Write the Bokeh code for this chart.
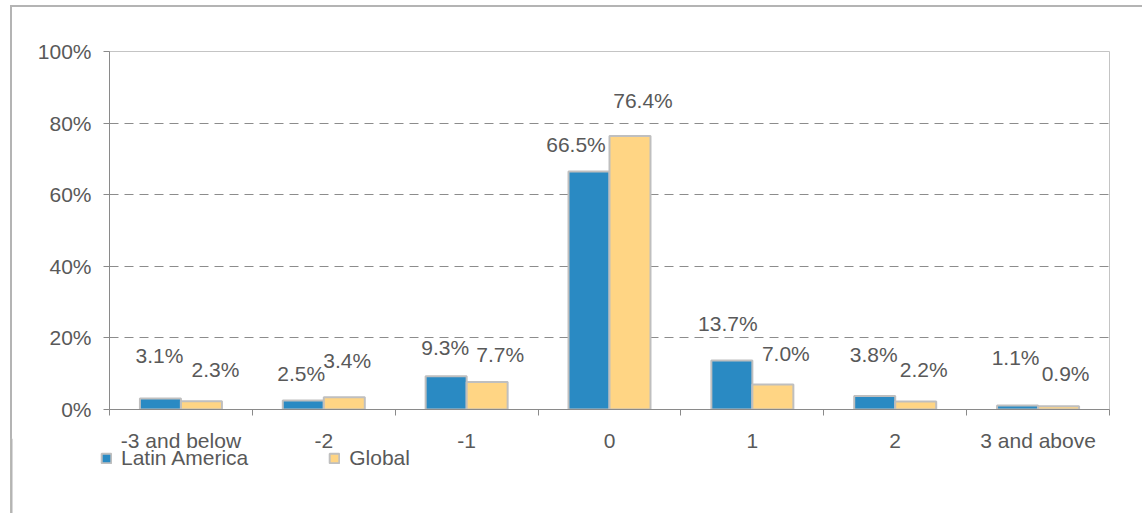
from bokeh.plotting import figure
from bokeh.layouts import column
from bokeh.models import Range1d, FixedTicker, Legend, LegendItem, ColumnDataSource, Span
from bokeh.embed import file_html
from bokeh.resources import INLINE
from bokeh.core.properties import value

# --- data -------------------------------------------------------------
categories = ["-3 and below", "-2", "-1", "0", "1", "2", "3 and above"]
latin_america = [3.1, 2.5, 9.3, 66.5, 13.7, 3.8, 1.1]
global_share = [2.3, 3.4, 7.7, 76.4, 7.0, 2.2, 0.9]
series_names = ["Latin America", "Global"]
y_ticks = [0, 20, 40, 60, 80, 100]
y_tick_labels = ["0%", "20%", "40%", "60%", "80%", "100%"]

# label nudges in pixels (dx right, dy up from bar top to label centre)
latam_label_nudge = [(-1, 43), (-2, 27), (-1, 29), (-13, 27), (-4, 37), (-1, 41), (-2, 48)]
global_label_nudge = [(14, 32), (3, 37), (13, 27), (13, 35), (13, 31), (8, 32), (7, 33)]

FONT = "Liberation Sans"
TEXT = "#595959"
BLUE = "#2a8ac3"
YELLOW = "#ffd584"
EDGE = "#bfbfbf"
AXIS = "#8a8a8a"
FRAME = "#b4b4b4"
BAR_W = 0.287
LEFT = 97

n = len(categories)
centers = [i + 0.5 for i in range(n)]

p = figure(
    frame_width=1000, frame_height=358,
    min_border_left=LEFT, min_border_right=33,
    min_border_top=44, min_border_bottom=0,
    x_range=Range1d(0, n), y_range=Range1d(0, 100),
    output_backend="svg", toolbar_location=None,
)
p.background_fill_color = "white"
p.border_fill_color = "white"
p.outline_line_color = "#c4c4c4"
p.outline_line_width = 1

src = ColumnDataSource(dict(
    x_la=[c - BAR_W / 2 for c in centers],
    x_gl=[c + BAR_W / 2 for c in centers],
    la=latin_america,
    gl=global_share,
    la_txt=[f"{v:.1f}%" for v in latin_america],
    gl_txt=[f"{v:.1f}%" for v in global_share],
    la_dx=[d[0] for d in latam_label_nudge],
    la_dy=[-d[1] for d in latam_label_nudge],
    gl_dx=[d[0] for d in global_label_nudge],
    gl_dy=[-d[1] for d in global_label_nudge],
))

p.vbar(x="x_la", top="la", bottom=0, width=BAR_W, source=src,
       fill_color=BLUE, line_color=EDGE, line_width=2)
p.vbar(x="x_gl", top="gl", bottom=0, width=BAR_W, source=src,
       fill_color=YELLOW, line_color=EDGE, line_width=2)

for xcol, ycol, tcol, dx, dy in (("x_la", "la", "la_txt", "la_dx", "la_dy"),
                                 ("x_gl", "gl", "gl_txt", "gl_dx", "gl_dy")):
    p.text(x=xcol, y=ycol, text=tcol, x_offset=dx, y_offset=dy, source=src,
           text_align="center", text_baseline="middle",
           text_font=value(FONT), text_font_size="21px", text_color=TEXT)

# y axis
p.yaxis.ticker = FixedTicker(ticks=y_ticks)
p.yaxis.major_label_overrides = dict(zip(y_ticks, y_tick_labels))
p.yaxis.major_tick_out = 6
p.yaxis.major_tick_in = 0
p.yaxis.minor_tick_out = 0
p.yaxis.minor_tick_in = 0
p.yaxis.major_label_standoff = 12
p.yaxis.axis_line_color = AXIS
p.yaxis.major_tick_line_color = AXIS

# x axis: labels at category centres, tick marks on the boundaries
p.xaxis.ticker = FixedTicker(ticks=centers, minor_ticks=list(range(n + 1)))
p.xaxis.major_label_overrides = dict(zip(centers, categories))
p.xaxis.major_tick_out = 0
p.xaxis.major_tick_in = 0
p.xaxis.minor_tick_out = 6
p.xaxis.minor_tick_in = 0
p.xaxis.minor_tick_line_color = AXIS
p.xaxis.major_label_standoff = 13
p.xaxis.axis_line_color = AXIS

for ax in (p.xaxis, p.yaxis):
    ax.major_label_text_font = FONT
    ax.major_label_text_font_size = "21px"
    ax.major_label_text_color = TEXT
    ax.axis_line_width = 1

p.xgrid.visible = False
p.ygrid.ticker = FixedTicker(ticks=[20, 40, 60, 80])
p.ygrid.grid_line_color = "#8c8c8c"
p.ygrid.grid_line_dash = "9 6"
p.ygrid.grid_line_width = 1

# legend strip under the chart; shifted so its frame starts on the page border
SHIFT = LEFT + 2
lf = figure(
    width=1132, height=80, min_border=0,
    x_range=Range1d(0, 1), y_range=Range1d(0, 1),
    x_axis_location=None, y_axis_location=None,
    output_backend="svg", toolbar_location=None,
)
lf.grid.visible = False
lf.outline_line_color = None
lf.background_fill_alpha = 0
lf.border_fill_alpha = 0
lf.styles = {"position": "relative", "top": "-16px", "left": f"-{SHIFT}px"}

# continue the page border down the legend strip
lf.add_layout(Span(location=0, dimension="height", line_color=FRAME, line_width=4))

# key swatches: one row each, parked outside the visible range
key_la = lf.vbar(x=[-5], top=[1], width=0.1, fill_color=BLUE, line_color=EDGE, line_width=2)
key_gl = lf.vbar(x=[-5], top=[1], width=0.1, fill_color=YELLOW, line_color=EDGE, line_width=2)

legend = Legend(
    items=[LegendItem(label=series_names[0], renderers=[key_la]),
           LegendItem(label=series_names[1], renderers=[key_gl])],
    orientation="horizontal", location=(90, 48),
    glyph_width=12, glyph_height=12, label_standoff=9, spacing=80,
    label_text_font=FONT, label_text_font_size="21px", label_text_color=TEXT,
    background_fill_alpha=0, border_line_alpha=0, padding=0, margin=0,
)
lf.add_layout(legend, "center")

# thin grey frame round the whole chart
page = column(p, lf, spacing=0)
page.styles = {
    "margin-left": "12px", "margin-top": "7px",
    "outline": f"2px solid {FRAME}",
}

open("out.html", "w").write(file_html(page, INLINE))
